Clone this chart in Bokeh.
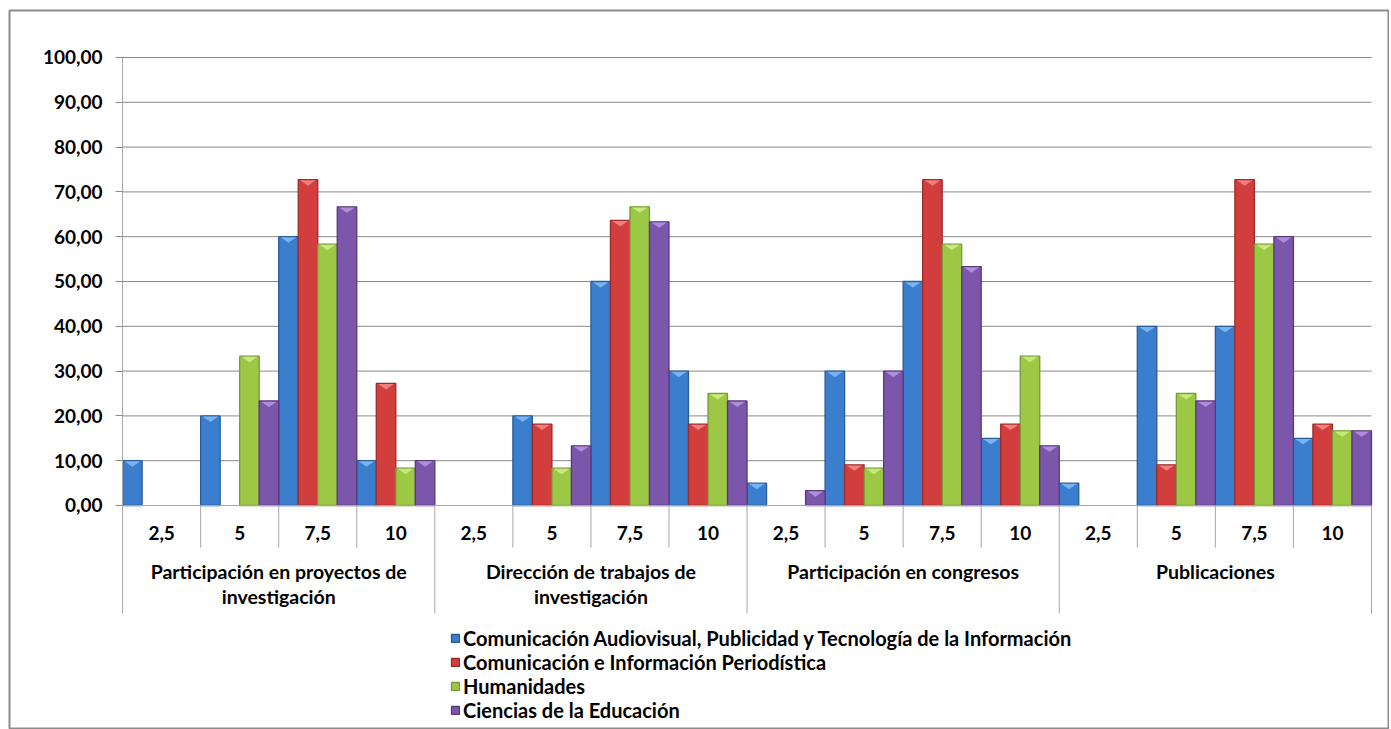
from bokeh.plotting import figure
from bokeh.models import (ColumnDataSource, LinearAxis, FixedTicker, CustomJSTickFormatter,
                          Legend, LegendItem, Range1d)
from bokeh.core.properties import value
from bokeh.embed import file_html
from bokeh.resources import INLINE

# ---------------- data ----------------
groups = ["Participación en proyectos de\ninvestigación",
          "Dirección de trabajos de\ninvestigación",
          "Participación en congresos",
          "Publicaciones"]
scores = ["2,5", "5", "7,5", "10"]
series_names = ["Comunicación Audiovisual, Publicidad y Tecnología de la Información",
                "Comunicación e Información Periodística",
                "Humanidades",
                "Ciencias de la Educación"]
# values ordered group by group, score by score (2,5 / 5 / 7,5 / 10)
audiovisual = [10, 20, 60, 10,   0, 20, 50, 30,   5, 30, 50, 15,   5, 40, 40, 15]
periodistica = [0, 0, 72.73, 27.27,   0, 18.18, 63.64, 18.18,   0, 9.09, 72.73, 18.18,   0, 9.09, 72.73, 18.18]
humanidades = [0, 33.33, 58.33, 8.33,   0, 8.33, 66.67, 25,   0, 8.33, 58.33, 33.33,   0, 25, 58.33, 16.67]
educacion = [0, 23.33, 66.67, 10,   0, 13.33, 63.33, 23.33,   3.33, 30, 53.33, 13.33,   0, 23.33, 60, 16.67]
y_ticks = [0, 10, 20, 30, 40, 50, 60, 70, 80, 90, 100]

series_values = [audiovisual, periodistica, humanidades, educacion]
fills = ["#3B7ECE", "#D23E3D", "#9CC846", "#7C56AB"]
edges = ["#2A5C99", "#9C2B29", "#769A36", "#58397F"]
tops = ["#7AB4F0", "#F07E7A", "#C8E87C", "#AE8DDA"]

FONT = value("Lato")
n_cat = len(groups) * len(scores)
bar_w = 1.0 / len(series_values)

p = figure(width=1389, height=729, output_backend="svg", toolbar_location=None,
           x_range=Range1d(-1.449, 16.231), y_range=Range1d(-50.0, 110.49),
           x_axis_location=None, y_axis_location=None,
           min_border_left=9, min_border_top=10, min_border_right=0, min_border_bottom=0)
p.xgrid.visible = False
p.ygrid.visible = False
p.outline_line_color = "#8C8C8C"
p.outline_line_width = 2
p.background_fill_color = "white"

# horizontal gridlines
grid_y = [t for t in y_ticks if t > 0]
p.segment(x0=[0] * len(grid_y), x1=[n_cat] * len(grid_y), y0=grid_y, y1=grid_y,
          line_color="#8A8A8A", line_width=1)

# bars
renderers = []
for j, vals in enumerate(series_values):
    xs = [k + (j + 0.5) * bar_w for k, v in enumerate(vals) if v > 0]
    ys = [v for v in vals if v > 0]
    src = ColumnDataSource(dict(x=xs, top=ys))
    r = p.vbar(x="x", top="top", bottom=0, width=bar_w, source=src,
               fill_color=fills[j], line_color=edges[j], line_width=1.3)
    # bevel highlight at the top of each bar
    tri_x = [[x - bar_w * 0.4, x + bar_w * 0.4, x] for x in xs]
    tri_y = [[v - 0.15, v - 0.15, v - 1.35] for v in ys]
    p.patches(xs=tri_x, ys=tri_y, fill_color=tops[j], line_color=None)
    renderers.append(r)

# category axis line and separators
p.segment(x0=[0], x1=[n_cat], y0=[0], y1=[0], line_color="#A6A6A6", line_width=1)
bounds = list(range(n_cat + 1))
sep_bottom = [-24.1 if b % len(scores) == 0 else -9.4 for b in bounds]
p.segment(x0=bounds, x1=bounds, y0=[0] * len(bounds), y1=sep_bottom,
          line_color="#A6A6A6", line_width=1)

# sub-category labels
p.text(x=[k + 0.5 for k in range(n_cat)], y=[-6.25] * n_cat,
       text=[scores[k % len(scores)] for k in range(n_cat)],
       text_font=FONT, text_font_size="19px", text_font_style="bold",
       text_align="center", text_baseline="middle", text_color="black")

# group labels
centers = [g * len(scores) + len(scores) / 2 for g in range(len(groups))]
line1 = [g.split("\n")[0] for g in groups]
line2 = [g.split("\n")[1] if "\n" in g else "" for g in groups]
p.text(x=centers, y=[-14.8] * len(groups), text=line1,
       text_font=FONT, text_font_size="19.5px", text_font_style="bold",
       text_align="center", text_baseline="middle", text_color="black")
p.text(x=centers, y=[-20.4] * len(groups), text=line2,
       text_font=FONT, text_font_size="19.5px", text_font_style="bold",
       text_align="center", text_baseline="middle", text_color="black")

# y axis
yaxis = LinearAxis(fixed_location=0, bounds=(0, 100), ticker=FixedTicker(ticks=y_ticks),
                   formatter=CustomJSTickFormatter(code="return tick.toFixed(2).replace('.', ',');"))
yaxis.axis_line_color = "#A6A6A6"
yaxis.major_tick_line_color = "#8A8A8A"
yaxis.major_tick_out = 7
yaxis.major_tick_in = 0
yaxis.minor_tick_line_color = None
yaxis.major_label_standoff = 13
yaxis.major_label_text_font = "Lato"
yaxis.major_label_text_font_size = "19px"
yaxis.major_label_text_font_style = "bold"
yaxis.major_label_text_color = "black"
p.add_layout(yaxis, "left")

legend = Legend(items=[LegendItem(label=n, renderers=[r]) for n, r in zip(series_names, renderers)],
                location=(441, 7), orientation="vertical",
                label_text_font="Lato", label_text_font_size="20px", label_text_font_style="bold",
                label_text_color="black", glyph_width=10, glyph_height=10, label_standoff=3,
                spacing=0, padding=0, margin=0, label_height=22,
                border_line_color=None, background_fill_alpha=0)
p.add_layout(legend)

open("out.html", "w").write(file_html(p, INLINE))
